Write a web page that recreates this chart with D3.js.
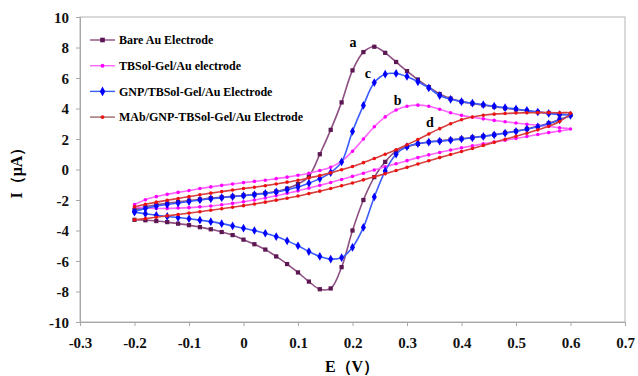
<!DOCTYPE html>
<html>
<head>
<meta charset="utf-8">
<script src="https://cdn.jsdelivr.net/npm/d3@7"></script>
<style>
  body { margin: 0; background: #fff; }
  text { font-family: "Liberation Serif", "Times New Roman", serif; font-weight: bold; }
</style>
</head>
<body>
<div class="chart"></div>
<script>
let outerWidth = 638
let outerHeight = 376
let margin = {top: 17, bottom: 54, left: 80, right: 13}
let w = outerWidth - margin.left - margin.right
let h = outerHeight - margin.top - margin.bottom

// potential grid (V)
const potential = [-0.2, -0.18, -0.16, -0.14, -0.12, -0.1, -0.08, -0.06, -0.04, -0.02, 0,
    0.02, 0.04, 0.06, 0.08, 0.1, 0.12, 0.14, 0.16, 0.18, 0.2, 0.22, 0.24, 0.26, 0.28, 0.3,
    0.32, 0.34, 0.36, 0.38, 0.4, 0.42, 0.44, 0.46, 0.48, 0.5, 0.52, 0.54, 0.56, 0.58, 0.6]

// current (uA), forward scan and reverse scan, both listed at the potentials above
const bareFwd = [-2.65, -2.45, -2.32, -2.22, -2.12, -2.04, -1.96, -1.88, -1.82, -1.76, -1.7,
    -1.63, -1.55, -1.45, -1.25, -0.95, -0.45, 1.0, 2.6, 4.4, 6.5, 7.7, 8.05, 7.65, 7.05, 6.45,
    5.9, 5.4, 4.95, 4.65, 4.45, 4.33, 4.22, 4.12, 4.02, 3.94, 3.85, 3.77, 3.7, 3.63, 3.57]
const bareRev = [-3.3, -3.33, -3.38, -3.45, -3.55, -3.65, -3.78, -3.92, -4.1, -4.3, -4.6,
    -4.9, -5.25, -5.7, -6.2, -6.75, -7.35, -7.85, -7.8, -6.4, -4.0, -2.0, -0.5, 0.5, 1.2, 1.5,
    1.68, 1.8, 1.88, 1.95, 2.02, 2.1, 2.18, 2.28, 2.4, 2.52, 2.66, 2.83, 3.03, 3.28, 3.57]

const solgelFwd = [-2.3, -1.98, -1.78, -1.63, -1.5, -1.38, -1.25, -1.14, -1.04, -0.95, -0.86,
    -0.78, -0.7, -0.6, -0.5, -0.38, -0.24, -0.06, 0.15, 0.55, 1.2, 2.0, 2.8, 3.45, 3.9, 4.15,
    4.22, 4.15, 3.95, 3.72, 3.55, 3.43, 3.32, 3.22, 3.13, 3.05, 2.97, 2.9, 2.82, 2.74, 2.65]
const solgelRev = [-2.45, -2.52, -2.55, -2.55, -2.53, -2.5, -2.45, -2.39, -2.31, -2.22, -2.12,
    -2.0, -1.87, -1.72, -1.56, -1.4, -1.22, -1.04, -0.85, -0.65, -0.45, -0.24, -0.03, 0.18, 0.38, 0.58,
    0.78, 0.96, 1.12, 1.28, 1.42, 1.55, 1.68, 1.8, 1.92, 2.04, 2.16, 2.29, 2.42, 2.52, 2.6]

const gnpFwd = [-2.75, -2.55, -2.4, -2.3, -2.2, -2.1, -2.0, -1.92, -1.85, -1.78, -1.72,
    -1.65, -1.57, -1.47, -1.33, -1.15, -0.9, -0.6, -0.2, 0.5, 2.5, 4.2, 5.7, 6.25, 6.3, 6.1,
    5.75, 5.35, 4.85, 4.6, 4.45, 4.35, 4.25, 4.15, 4.05, 3.97, 3.87, 3.77, 3.68, 3.6, 3.55]
const gnpRev = [-2.8, -2.9, -3.0, -3.08, -3.15, -3.23, -3.32, -3.42, -3.55, -3.7, -3.85,
    -4.0, -4.18, -4.4, -4.68, -5.0, -5.38, -5.7, -5.87, -5.78, -5.1, -3.8, -1.8, -0.1, 1.0, 1.5,
    1.7, 1.8, 1.86, 1.92, 2.0, 2.08, 2.17, 2.27, 2.38, 2.5, 2.64, 2.8, 3.0, 3.25, 3.55]

const mabFwd = [-2.45, -2.28, -2.14, -2.02, -1.9, -1.78, -1.66, -1.55, -1.45, -1.35, -1.25,
    -1.16, -1.06, -0.95, -0.83, -0.7, -0.55, -0.4, -0.22, -0.02, 0.2, 0.45, 0.72, 1.0, 1.3, 1.62,
    1.97, 2.33, 2.68, 3.0, 3.26, 3.44, 3.56, 3.63, 3.67, 3.7, 3.72, 3.73, 3.73, 3.72, 3.7]
const mabRev = [-3.3, -3.22, -3.13, -3.04, -2.95, -2.86, -2.77, -2.67, -2.57, -2.47, -2.37,
    -2.26, -2.14, -2.01, -1.88, -1.74, -1.58, -1.42, -1.25, -1.07, -0.88, -0.68, -0.48, -0.28, -0.07, 0.14,
    0.36, 0.57, 0.78, 0.98, 1.18, 1.38, 1.58, 1.78, 1.98, 2.18, 2.38, 2.6, 2.84, 3.15, 3.6]

const seriesNames = ["Bare Au Electrode", "TBSol-Gel/Au electrode",
    "GNP/TBSol-Gel/Au Electrode", "MAb/GNP-TBSol-Gel/Au Electrode"]
const curveLetters = ["a", "b", "c", "d"]
const letterE = [0.201, 0.283, 0.228, 0.342]
const letterI = [8.36, 4.56, 6.33, 3.11]
const xTicks = [-0.3, -0.2, -0.1, 0, 0.1, 0.2, 0.3, 0.4, 0.5, 0.6, 0.7]
const yTicks = [-10, -8, -6, -4, -2, 0, 2, 4, 6, 8, 10]

const styles = [
    {marker: "#5c1652", line: "#8d4f83", symbol: d3.symbolSquare, size: 18},
    {marker: "#ff00ff", line: "#ff66ff", symbol: d3.symbolCircle, size: 10},
    {marker: "#0000ff", line: "#3a5cff", symbol: d3.symbolDiamond, size: 22},
    {marker: "#ee1111", line: "#d84040", symbol: d3.symbolCircle, size: 10}
]

// loop: forward scan then back along the reverse scan
function loop(fwd, rev) {
    let pts = potential.map((e, i) => [e, fwd[i]])
    let back = potential.map((e, i) => [e, rev[i]]).reverse()
    return pts.concat(back.slice(1))
}

const curves = [loop(bareFwd, bareRev), loop(solgelFwd, solgelRev),
    loop(gnpFwd, gnpRev), loop(mabFwd, mabRev)]

const svg = d3.select(".chart")
    .append("svg")
    .attr("width", outerWidth)
    .attr("height", outerHeight)
    .append("g")
    .attr("transform", `translate(${margin.left}, ${margin.top})`)

const xScale = d3.scaleLinear().domain([-0.3, 0.7]).range([0, w])
const yScale = d3.scaleLinear().domain([-10, 10]).range([h, 0])

// frame
svg.append("rect")
    .attr("width", w)
    .attr("height", h)
    .attr("fill", "none")
    .attr("stroke", "#b4b4b4")

const xAxis = d3.axisBottom(xScale)
    .tickValues(xTicks)
    .tickSize(4)
    .tickFormat(d => d === 0 ? "0" : d3.format(".1f")(d).replace("−", "-"))

const yAxis = d3.axisLeft(yScale)
    .tickValues(yTicks)
    .tickSize(4)
    .tickFormat(d => String(d))

svg.append("g")
    .attr("class", "axis x-axis")
    .attr("transform", `translate(0, ${h})`)
    .call(xAxis)

svg.append("g")
    .attr("class", "axis y-axis")
    .call(yAxis)

svg.selectAll(".axis path, .axis line").attr("stroke", "#a8a8a8")
svg.selectAll(".axis text")
    .attr("font-size", 15)
    .attr("font-family", "Liberation Serif")
    .attr("font-weight", "bold")
    .attr("fill", "#111")
svg.selectAll(".x-axis text").attr("dy", "1.25em")
svg.selectAll(".y-axis text").attr("x", -11).attr("dy", "0.34em")

const line = d3.line()
    .x(d => xScale(d[0]))
    .y(d => yScale(d[1]))
    .curve(d3.curveCatmullRom)

curves.forEach((pts, k) => {
    let st = styles[k]
    let g = svg.append("g").attr("class", "series s" + k)
    g.append("path")
        .datum(pts)
        .attr("d", line)
        .attr("fill", "none")
        .attr("stroke", st.line)
        .attr("stroke-width", 1.6)
    g.selectAll("path.pt")
        .data(pts)
        .enter()
        .append("path")
        .attr("class", "pt")
        .attr("transform", d => `translate(${xScale(d[0])}, ${yScale(d[1])})`)
        .attr("d", d3.symbol().type(st.symbol).size(st.size))
        .attr("fill", st.marker)
})

// curve letters
svg.selectAll(".letter")
    .data(curveLetters)
    .enter()
    .append("text")
    .attr("class", "letter")
    .attr("x", (d, i) => xScale(letterE[i]))
    .attr("y", (d, i) => yScale(letterI[i]))
    .attr("dy", "0.35em")
    .attr("text-anchor", "middle")
    .attr("font-size", 14)
    .text(d => d)

// legend
const legend = svg.append("g").attr("transform", "translate(10, 23)")
seriesNames.forEach((name, i) => {
    let st = styles[i]
    let row = legend.append("g").attr("transform", `translate(0, ${i * 25.7})`)
    row.append("line")
        .attr("x1", 0).attr("x2", 25)
        .attr("stroke", i === 3 ? "#9a6a6a" : st.line)
        .attr("stroke-width", 1.4)
    row.append("path")
        .attr("transform", "translate(12.5, 0)")
        .attr("d", d3.symbol().type(st.symbol).size(st.size * 1.2))
        .attr("fill", st.marker)
    row.append("text")
        .attr("x", 29)
        .attr("dy", "0.35em")
        .attr("font-size", 12)
        .text(name)
})

// axis titles
svg.append("text")
    .attr("x", 272)
    .attr("y", h + 50)
    .attr("text-anchor", "middle")
    .attr("font-size", 16)
    .text("E（V）")

svg.append("text")
    .attr("transform", `translate(-58, ${152}) rotate(-90)`)
    .attr("text-anchor", "middle")
    .attr("font-size", 16)
    .text("I（μA）")
</script>
</body>
</html>
